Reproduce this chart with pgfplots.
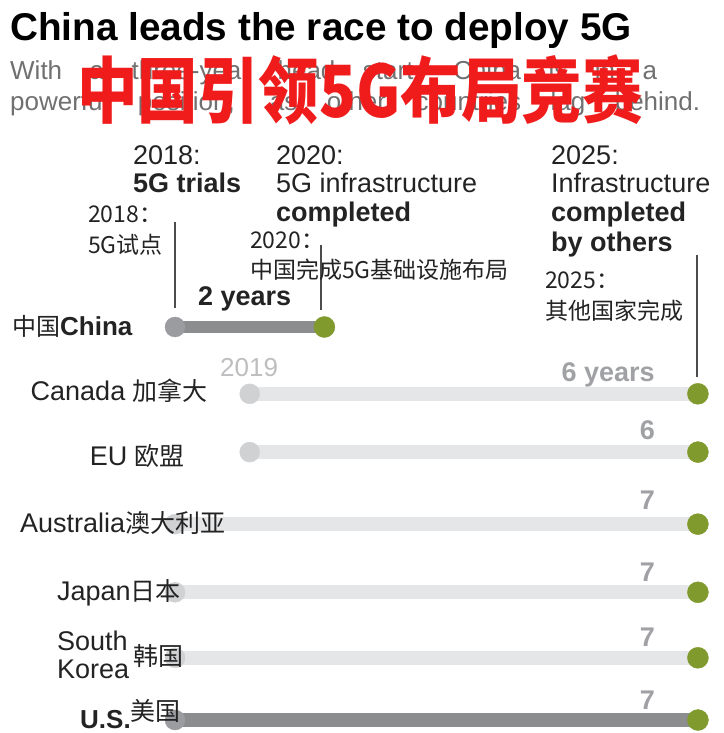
\documentclass[border=0pt]{standalone}
\usepackage{pgfplots}
\pgfplotsset{compat=1.18}
\usepackage{fontspec}
\setmainfont{Liberation Sans}
\newfontfamily\cjk{Noto Sans CJK SC}
\definecolor{olivegreen}{RGB}{128,154,46}
\definecolor{darkbar}{RGB}{140,141,143}
\definecolor{darkdot}{RGB}{155,156,160}
\definecolor{lightbar}{RGB}{229,230,231}
\definecolor{lightdot}{RGB}{208,209,211}
\definecolor{numgray}{RGB}{160,161,164}
\definecolor{subgray}{RGB}{112,112,112}
\definecolor{yeargray}{RGB}{190,190,192}
\definecolor{redtxt}{RGB}{240,28,28}
\definecolor{txt}{RGB}{35,35,35}
\newcommand{\fs}[1]{\fontsize{#1}{#1}\selectfont}
\begin{document}
\begin{tikzpicture}
\begin{axis}[
  set layers,
  scale only axis, width=723pt, height=733pt,
  xmin=2015.657, xmax=2025.336,
  ymin=-0.198, ymax=10.992,
  hide axis, clip=false,
]
% ---- bars (start year -> end year), y = row position
\addplot[lightbar, line width=14pt, forget plot] coordinates {(2019,4.98) (2025,4.98)};
\addplot[lightbar, line width=14pt, forget plot] coordinates {(2019,4.09) (2025,4.09)};
\addplot[lightbar, line width=14pt, forget plot] coordinates {(2018,2.99) (2025,2.99)};
\addplot[lightbar, line width=14pt, forget plot] coordinates {(2018,1.95) (2025,1.95)};
\addplot[lightbar, line width=14pt, forget plot] coordinates {(2018,0.95) (2025,0.95)};
\addplot[darkbar, line width=14pt, forget plot] coordinates {(2018,0) (2025,0)};
\addplot[darkbar, line width=12pt, forget plot] coordinates {(2018,6) (2020,6)};
% ---- start dots
\addplot[only marks, mark=*, mark size=10pt, color=darkdot, mark options={draw=darkdot, fill=darkdot}] coordinates {(2018,6) (2018,0)};
\addplot[only marks, mark=*, mark size=10pt, color=lightdot, mark options={draw=lightdot, fill=lightdot}] coordinates {(2019,4.98) (2019,4.09) (2018,2.99) (2018,1.95) (2018,0.95)};
% ---- end dots
\addplot[only marks, mark=*, mark size=10.5pt, color=olivegreen, mark options={draw=olivegreen, fill=olivegreen}] coordinates {(2020,6) (2025,4.98) (2025,4.09) (2025,2.99) (2025,1.95) (2025,0.95) (2025,0)};

\begin{pgfonlayer}{axis foreground}
% ---- title and subtitle
\node[anchor=base west, font=\fs{38.7}\bfseries, text=black, inner sep=0pt] at (rel axis cs:10/723,1-41/733) {China leads the race to deploy 5G};
\node[anchor=base west, font=\fs{26}, text=subgray, inner sep=0pt] at (rel axis cs:10/723,1-80/733) {\makebox[647pt][s]{With a three-year head start, China is in a}};
\node[anchor=base west, font=\fs{26}, text=subgray, inner sep=0pt] at (rel axis cs:10/723,1-111/733) {\makebox[690pt][s]{powerful position, as other countries lag behind.}};
\node[anchor=center, font=\cjk\bfseries\fs{72}, text=redtxt, inner sep=0pt, xscale=0.84] at (rel axis cs:360/723,1-90/733) {中国引领5G布局竞赛};

% ---- vertical leader lines
\draw[black!70, line width=1.5pt] (rel axis cs:175/723,1-222/733) -- (rel axis cs:175/723,1-308/733);
\draw[black!70, line width=1.5pt] (rel axis cs:321/723,1-245/733) -- (rel axis cs:321/723,1-310/733);
\draw[black!70, line width=1.5pt] (rel axis cs:697/723,1-255/733) -- (rel axis cs:697/723,1-377/733);

% ---- annotations (English)
\begin{scope}[every node/.style={anchor=base west, inner sep=0pt, text=txt, font=\fs{27}}]
\node at (rel axis cs:133/723,1-165/733) {2018:};
\node[font=\fs{27}\bfseries] at (rel axis cs:133/723,1-193/733) {5G trials};
\node at (rel axis cs:276/723,1-165/733) {2020:};
\node at (rel axis cs:276/723,1-193/733) {5G infrastructure};
\node[font=\fs{27}\bfseries] at (rel axis cs:276/723,1-222/733) {completed};
\node at (rel axis cs:551/723,1-165/733) {2025:};
\node at (rel axis cs:551/723,1-193/733) {Infrastructure};
\node[font=\fs{27}\bfseries] at (rel axis cs:551/723,1-222/733) {completed};
\node[font=\fs{27}\bfseries] at (rel axis cs:551/723,1-252/733) {by others};
\end{scope}
% ---- annotations (Chinese)
\begin{scope}[every node/.style={anchor=base west, inner sep=0pt, text=txt, font=\cjk\fs{23}}]
\node at (rel axis cs:88/723,1-223/733) {2018：};
\node at (rel axis cs:88/723,1-254/733) {5G试点};
\node at (rel axis cs:250/723,1-249/733) {2020：};
\node at (rel axis cs:250/723,1-279/733) {中国完成5G基础设施布局};
\node at (rel axis cs:545/723,1-289/733) {2025：};
\node at (rel axis cs:545/723,1-320/733) {其他国家完成};
\end{scope}

% ---- gap labels
\node[anchor=base west, inner sep=0pt, text=txt, font=\fs{27}\bfseries] at (rel axis cs:198/723,1-306/733) {2 years};
\node[anchor=base west, inner sep=0pt, text=yeargray, font=\fs{26}] at (rel axis cs:220/723,1-377/733) {2019};
\begin{scope}[every node/.style={anchor=base east, inner sep=0pt, text=numgray, font=\fs{27}\bfseries}]
\node at (rel axis cs:655/723,1-382/733) {6 years};
\node at (rel axis cs:655/723,1-440/733) {6};
\node at (rel axis cs:655/723,1-510/733) {7};
\node at (rel axis cs:655/723,1-582/733) {7};
\node at (rel axis cs:655/723,1-647/733) {7};
\node at (rel axis cs:655/723,1-710/733) {7};
\end{scope}

% ---- country labels
\node[anchor=base west, inner sep=0pt, text=txt] at (rel axis cs:12/723,1-336/733) {{\cjk\fs{24}中国}{\fs{26}\bfseries China}};
\node[anchor=base east, inner sep=0pt, text=txt] at (rel axis cs:208/723,1-401/733) {{\fs{27}Canada }{\cjk\fs{25}加拿大}};
\node[anchor=base east, inner sep=0pt, text=txt] at (rel axis cs:185/723,1-466/733) {{\fs{27}EU }{\cjk\fs{25}欧盟}};
\node[anchor=base west, inner sep=0pt, text=txt] at (rel axis cs:20/723,1-533/733) {{\fs{27}Australia}{\cjk\fs{25}澳大利亚}};
\node[anchor=base west, inner sep=0pt, text=txt] at (rel axis cs:57/723,1-601/733) {{\fs{27}Japan}{\cjk\fs{25}日本}};
\node[anchor=base west, inner sep=0pt, text=txt, font=\fs{27}] at (rel axis cs:57/723,1-651/733) {South};
\node[anchor=base west, inner sep=0pt, text=txt, font=\fs{27}] at (rel axis cs:57/723,1-679/733) {Korea};
\node[anchor=base west, inner sep=0pt, text=txt, font=\cjk\fs{25}] at (rel axis cs:133/723,1-666/733) {韩国};
\node[anchor=base west, inner sep=0pt, text=txt, font=\fs{26}\bfseries] at (rel axis cs:80/723,1-729/733) {U.S.};
\node[anchor=base west, inner sep=0pt, text=txt, font=\cjk\fs{25}] at (rel axis cs:130/723,1-721/733) {美国};
\end{pgfonlayer}
\end{axis}
\pgfresetboundingbox
\path (current axis.south west) rectangle (current axis.north east);
\end{tikzpicture}
\end{document}
